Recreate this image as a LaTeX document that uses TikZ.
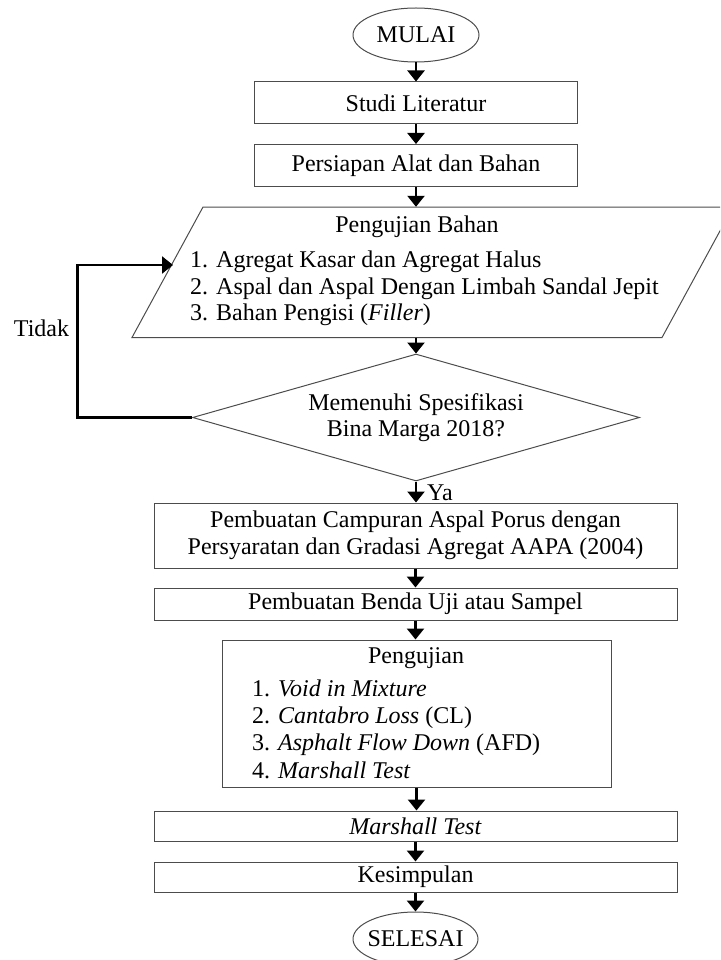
\documentclass[tikz,border=0pt]{standalone}
\usepackage{fontspec}
\setmainfont{Liberation Serif}
\usetikzlibrary{shapes.geometric,arrows.meta}
\tikzset{
  frame/.style={draw=black!70, line width=1pt},
  box/.style={frame, rectangle, inner sep=0pt, align=center},
  term/.style={frame, ellipse, inner sep=0pt, minimum width=126pt, minimum height=54pt},
  decide/.style={frame, diamond, shape aspect=3.5, inner sep=0pt, align=center, minimum width=447pt, minimum height=127pt},
  arr/.style={line width=2.4pt, -{Triangle[length=11pt,width=17pt]}},
  lbl/.style={inner sep=0pt},
  lst/.style={inner sep=0pt, align=left, anchor=west}
}
\begin{document}
\begin{tikzpicture}[x=1pt,y=-1pt,font=\fontsize{24}{26.5}\selectfont]
\useasboundingbox (0,0) rectangle (720,960);
\clip (0,0) rectangle (720,960);

\node[term] (mulai) at (416,35) {\makebox[0pt]{MULAI}};
\node[box, minimum width=323pt, minimum height=42pt] (studi) at (416,103) {Studi Literatur};
\node[box, minimum width=323pt, minimum height=42pt] (persiapan) at (416,165.5) {Persiapan Alat dan Bahan};

% input/output parallelogram
\draw[frame] (203,207) -- (733,207) -- (662,337.5) -- (132,337.5) -- cycle;
\node[inner sep=0pt, minimum width=1pt, minimum height=130.5pt] (pb) at (416,272.25) {};
\node[lbl] (pbtitle) at (417,227) {Pengujian Bahan};
\node[lst] (pblist) at (190,288.5) {1. Agregat Kasar dan Agregat Halus\\2. Aspal dan Aspal Dengan Limbah Sandal Jepit\\3. Bahan Pengisi (\textit{Filler})};
\coordinate (pbin) at (173,265);
\coordinate (loopx) at (77.5,265);

\node[decide] (dia) at (416,417.5) {Memenuhi Spesifikasi\\Bina Marga 2018?};
\node[lbl] (tidak) at (41.5,328) {Tidak};

\node[box, minimum width=523pt, minimum height=65pt] (campur) at (415.5,535.5) {Pembuatan Campuran Aspal Porus dengan\\Persyaratan dan Gradasi Agregat AAPA (2004)};
\node[lbl, anchor=west] (ya) at (427,493) {Ya};
\node[box, minimum width=523pt, minimum height=32pt] (benda) at (415.5,604) {Pembuatan Benda Uji atau Sampel};
\node[box, minimum width=389pt, minimum height=147pt] (uji) at (416.5,713.5) {};
\node[lbl] (ujititle) at (416,658) {Pengujian};
\node[lst, font=\fontsize{24}{27.3}\selectfont] (ujilist) at (252,729) {1. \textit{Void in Mixture}\\2. \textit{Cantabro Loss} (CL)\\3. \textit{Asphalt Flow Down} (AFD)\\4. \textit{Marshall Test}};
\node[box, minimum width=523pt, minimum height=30pt] (marshall) at (415.5,826) {\textit{Marshall Test}};
\node[box, minimum width=523pt, minimum height=30pt] (kes) at (415.5,877) {Kesimpulan};
\node[term, minimum width=125pt] (selesai) at (415.5,939) {\makebox[0pt]{SELESAI}};

\draw[arr] (mulai.south) -- (mulai.south |- studi.north);
\draw[arr] (studi.south) -- (studi.south |- persiapan.north);
\draw[arr] (persiapan.south) -- (persiapan.south |- pb.north);
\draw[arr] (pb.south) -- (pb.south |- dia.north);
\draw[arr] (dia.south) -- (dia.south |- campur.north);
\draw[arr] (campur.south) -- (campur.south |- benda.north);
\draw[arr] (benda.south) -- (benda.south |- uji.north);
\draw[arr] (uji.south) -- (uji.south |- marshall.north);
\draw[arr] (marshall.south) -- (marshall.south |- kes.north);
\draw[arr] (kes.south) -- (kes.south |- selesai.north);
\draw[arr] (dia.west) -| (loopx) -- (pbin);
\end{tikzpicture}
\end{document}
